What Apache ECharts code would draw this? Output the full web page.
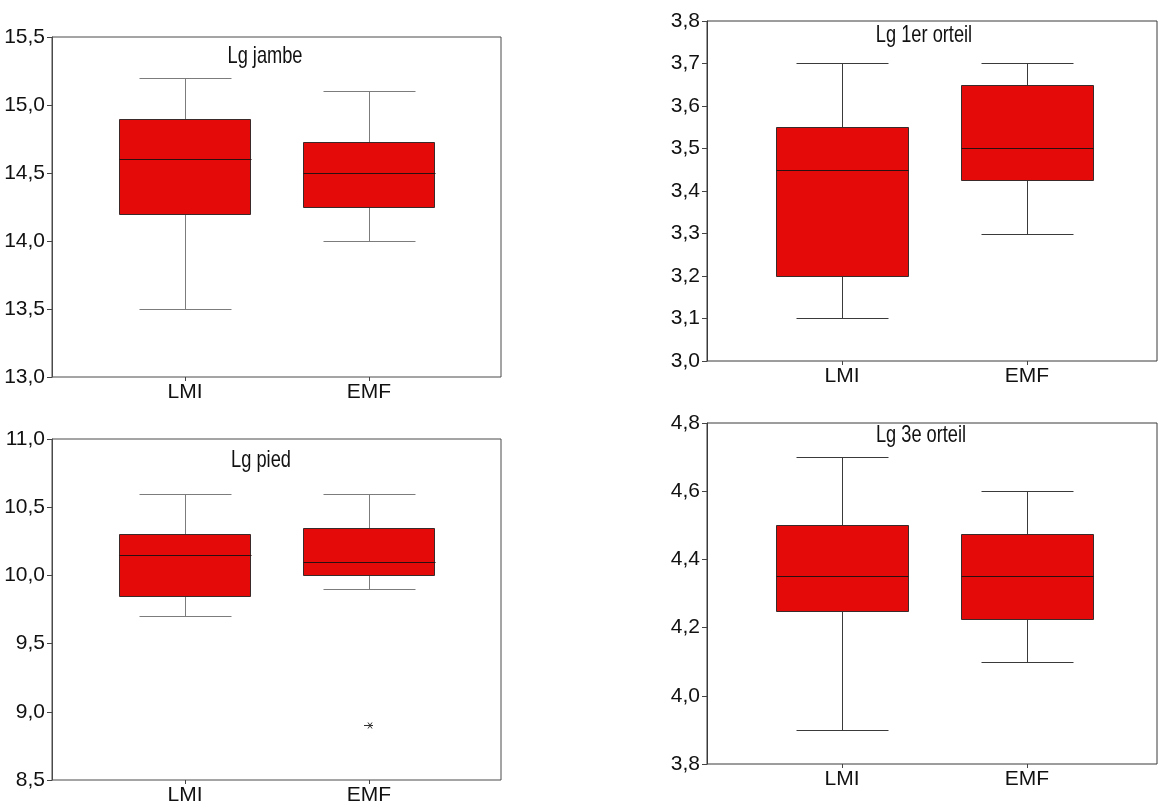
<!DOCTYPE html>
<html>
<head>
<meta charset="utf-8">
<title>Longueurs LMI / EMF</title>
<script src="https://cdn.jsdelivr.net/npm/echarts@6/dist/echarts.min.js"></script>
<style>
  html, body { margin: 0; padding: 0; background: #ffffff; }
  #chart { width: 1158px; height: 808px; }
</style>
</head>
<body>
<div id="chart"></div>
<script>
// Groups on the horizontal axis
const categories = ['LMI', 'EMF'];

// Five-number summaries per group: [min, Q1, median, Q3, max]
const jambeLMI = [13.5, 14.2, 14.6, 14.9, 15.2];
const jambeEMF = [14.0, 14.25, 14.5, 14.725, 15.1];

const orteil1LMI = [3.1, 3.2, 3.45, 3.55, 3.7];
const orteil1EMF = [3.3, 3.425, 3.5, 3.65, 3.7];

const piedLMI = [9.7, 9.85, 10.15, 10.3, 10.6];
const piedEMF = [9.9, 10.0, 10.1, 10.35, 10.6];
const piedOutliersEMF = [8.9];

const orteil3LMI = [3.9, 4.25, 4.35, 4.5, 4.7];
const orteil3EMF = [4.1, 4.225, 4.35, 4.475, 4.6];

// Vertical axis of each panel: [min, max, step]
const jambeAxis = [13.0, 15.5, 0.5];
const orteil1Axis = [3.0, 3.8, 0.1];
const piedAxis = [8.5, 11.0, 0.5];
const orteil3Axis = [3.8, 4.8, 0.2];

const FONT = "'Liberation Sans Narrow', 'Arial Narrow', 'Liberation Sans', Arial, sans-serif";
const BOX_FILL = '#e50a0a';
const BOX_EDGE = '#3a2a2a';
const MEDIAN_COLOR = '#2a1010';
const BOX_RATIO = 0.712;   // box width relative to category spacing
const CAP_RATIO = 0.5;     // whisker cap width relative to category spacing

const panels = [
  { title: 'Lg jambe', boxes: [jambeLMI, jambeEMF], outliers: [[], []], axis: jambeAxis,
    frame: { left: 52, top: 37, width: 449, height: 340 }, inner: { left: 93, width: 368 },
    titleAt: [265, 44], whisker: '#7c7c7c', border: '#4a4a4a' },
  { title: 'Lg 1er orteil', boxes: [orteil1LMI, orteil1EMF], outliers: [[], []], axis: orteil1Axis,
    frame: { left: 707, top: 21, width: 450, height: 340 }, inner: { left: 749.5, width: 370 },
    titleAt: [924, 23], whisker: '#3a3a3a', border: '#3a3a3a' },
  { title: 'Lg pied', boxes: [piedLMI, piedEMF], outliers: [[], piedOutliersEMF], axis: piedAxis,
    frame: { left: 52, top: 439, width: 449, height: 341 }, inner: { left: 93, width: 368 },
    titleAt: [261, 448], whisker: '#7c7c7c', border: '#4a4a4a' },
  { title: 'Lg 3e orteil', boxes: [orteil3LMI, orteil3EMF], outliers: [[], []], axis: orteil3Axis,
    frame: { left: 707, top: 423, width: 450, height: 341 }, inner: { left: 749.5, width: 370 },
    titleAt: [921, 423], whisker: '#3a3a3a', border: '#3a3a3a' }
];

const crisp = v => Math.round(v) + 0.5;

function boxRenderer(whiskerColor) {
  return function (params, api) {
    const k = api.value(0);
    const band = api.size([1, 0])[0];
    const half = band * BOX_RATIO / 2;
    const capHalf = band * CAP_RATIO / 2;
    const cx = api.coord([k, api.value(3)])[0];
    const yMin = api.coord([k, api.value(1)])[1];
    const yQ1 = api.coord([k, api.value(2)])[1];
    const yMed = api.coord([k, api.value(3)])[1];
    const yQ3 = api.coord([k, api.value(4)])[1];
    const yMax = api.coord([k, api.value(5)])[1];
    const wStyle = { stroke: whiskerColor, lineWidth: 1 };
    return {
      type: 'group',
      children: [
        { type: 'line', shape: { x1: crisp(cx), y1: crisp(yMax), x2: crisp(cx), y2: crisp(yQ3) }, style: wStyle },
        { type: 'line', shape: { x1: crisp(cx), y1: crisp(yQ1), x2: crisp(cx), y2: crisp(yMin) }, style: wStyle },
        { type: 'line', shape: { x1: crisp(cx - capHalf), y1: crisp(yMax), x2: crisp(cx + capHalf), y2: crisp(yMax) }, style: wStyle },
        { type: 'line', shape: { x1: crisp(cx - capHalf), y1: crisp(yMin), x2: crisp(cx + capHalf), y2: crisp(yMin) }, style: wStyle },
        { type: 'rect',
          shape: { x: crisp(cx - half), y: crisp(yQ3), width: Math.round(2 * half), height: Math.round(yQ1) - Math.round(yQ3) },
          style: { fill: BOX_FILL, stroke: BOX_EDGE, lineWidth: 1 } },
        { type: 'line', shape: { x1: crisp(cx - half), y1: crisp(yMed), x2: crisp(cx + half), y2: crisp(yMed) },
          style: { stroke: MEDIAN_COLOR, lineWidth: 1 } }
      ]
    };
  };
}

// Outliers drawn as a small asterisk
function outlierRenderer(params, api) {
  const p = api.coord([api.value(0), api.value(1)]);
  const x = Math.round(p[0]), y = Math.round(p[1]) + 0.5;
  const st = { stroke: '#333333', lineWidth: 1 };
  return {
    type: 'group',
    children: [
      { type: 'line', shape: { x1: x - 5, y1: y, x2: x + 4, y2: y }, style: st },
      { type: 'line', shape: { x1: x - 1, y1: y - 3, x2: x + 3, y2: y + 3 }, style: st },
      { type: 'line', shape: { x1: x - 1, y1: y + 3, x2: x + 3, y2: y - 3 }, style: st }
    ]
  };
}

const grid = [], xAxis = [], yAxis = [], series = [], graphic = [];

panels.forEach((p, i) => {
  const fi = 2 * i, ii = 2 * i + 1;
  const [yMin, yMax, yStep] = p.axis;

  // Framed plotting area holding the value axis
  grid.push({
    left: p.frame.left, top: p.frame.top, width: p.frame.width, height: p.frame.height,
    show: true, borderColor: p.border, borderWidth: 1, backgroundColor: '#ffffff',
    containLabel: false, outerBoundsMode: 'none'
  });
  // Inner band holding the two groups
  grid.push({
    left: p.inner.left, top: p.frame.top, width: p.inner.width, height: p.frame.height,
    show: false, containLabel: false, outerBoundsMode: 'none'
  });

  xAxis.push({ gridIndex: fi, type: 'value', min: 0, max: 1, show: false });
  xAxis.push({
    gridIndex: ii, type: 'category', data: categories, boundaryGap: true,
    axisLine: { show: false },
    axisTick: { show: true, alignWithLabel: true, length: 4, lineStyle: { color: '#444' } },
    axisLabel: { margin: 5, fontSize: 21, color: '#111', fontFamily: FONT },
    splitLine: { show: false }
  });

  yAxis.push({
    gridIndex: fi, type: 'value', min: yMin, max: yMax, interval: yStep,
    axisLine: { show: true, lineStyle: { color: p.border } },
    axisTick: { show: true, length: 5, lineStyle: { color: '#444' } },
    axisLabel: {
      margin: 7, fontSize: 21, color: '#111', fontFamily: FONT,
      formatter: v => v.toFixed(1).replace('.', ',')
    },
    splitLine: { show: false }
  });
  yAxis.push({ gridIndex: ii, type: 'value', min: yMin, max: yMax, show: false, splitLine: { show: false } });

  series.push({
    type: 'custom', xAxisIndex: ii, yAxisIndex: ii, clip: false,
    renderItem: boxRenderer(p.whisker),
    encode: { x: 0, y: [1, 2, 3, 4, 5] },
    data: p.boxes.map((b, k) => [k].concat(b)),
    silent: true
  });

  const outs = [];
  p.outliers.forEach((list, k) => list.forEach(v => outs.push([k, v])));
  if (outs.length) {
    series.push({
      type: 'custom', xAxisIndex: ii, yAxisIndex: ii, clip: false,
      renderItem: outlierRenderer, encode: { x: 0, y: 1 }, data: outs, silent: true
    });
  }

  // Panel heading, condensed horizontally
  graphic.push({
    type: 'text', x: p.titleAt[0], y: p.titleAt[1], scaleX: 0.76, silent: true, z: 10,
    style: { text: p.title, fill: '#111', font: '24px ' + FONT, align: 'center', verticalAlign: 'top' }
  });
});

const chart = echarts.init(document.getElementById('chart'), null, { renderer: 'canvas' });
chart.setOption({
  animation: false,
  backgroundColor: '#ffffff',
  grid, xAxis, yAxis, series, graphic
});
</script>
</body>
</html>
